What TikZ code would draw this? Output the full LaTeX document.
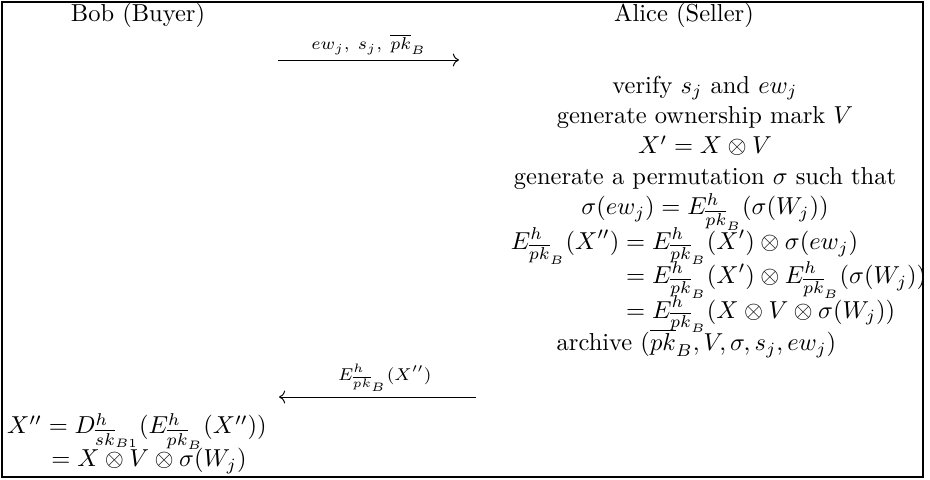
\documentclass[tikz,border=0pt]{standalone}
\usepackage{amsmath,amssymb}
\usetikzlibrary{arrows.meta, positioning}

\newcommand{\Epk}{E^{h}_{\overline{pk}_B}}

\begin{document}
\begin{tikzpicture}[x=0.408pt, y=-0.408pt,
  party/.style={inner sep=0pt, text height=7pt, text depth=2pt},
  rowtext/.style={inner sep=0pt, text height=8.5pt, text depth=3.5pt},
  msg/.style={-{Computer Modern Rightarrow[length=2.5pt]}, line width=0.4pt},
  msglabel/.style={above=2pt, inner sep=0pt},
  node distance=0pt,
]
\useasboundingbox (0,0) rectangle (930,480);
\draw[line width=0.6pt] (2,2) rectangle (923,477);
\node[party] (bob) at (138,15) {Bob (Buyer)};
\node[party] (alice) at (684,15) {Alice (Seller)};
% message to Alice
\coordinate (m1s) at (278,60);
\coordinate (m1e) at (459,60);
\draw[msg] (m1s) -- node[msglabel] (m1) {$\scriptstyle ew_j,\ s_j,\ \overline{pk}_B$} (m1e);
% Alice's steps
\node[rowtext] (chk) at (705,87) {verify $s_j$ and $ew_j$};
\node[rowtext, below=of chk] (mark) {generate ownership mark $V$};
\node[rowtext, below=of mark] (xp) {$X' = X \otimes V$};
\node[rowtext, below=of xp] (perm) {generate a permutation $\sigma$ such that};
\node[rowtext, below=of perm, text depth=5pt] (sig) {$\sigma(ew_j) = \Epk(\sigma(W_j))$};
\node[inner sep=0pt, below=0pt of sig, xshift=5.5pt] (enc) {\setlength{\jot}{1pt}$\begin{aligned}
  \Epk(X'') &= \Epk(X') \otimes \sigma(ew_j)\\[-3pt]
  &= \Epk(X') \otimes \Epk(\sigma(W_j))\\[-3pt]
  &= \Epk(X \otimes V \otimes \sigma(W_j))
\end{aligned}$};
\node[rowtext, below=-1.5pt of enc, xshift=-9pt] (arch) {archive $(\overline{pk}_B, V, \sigma, s_j, ew_j)$};
% message to Bob
\coordinate (m2s) at (476,397);
\coordinate (m2e) at (279,397);
\draw[msg] (m2s) -- node[msglabel, xshift=3pt] (m2) {$\scriptstyle \Epk(X'')$} (m2e);
% Bob decrypts
\node[inner sep=0pt, anchor=base] (res1) at (137,434) {$X'' = D^{h}_{\overline{sk}_{B1}}(\Epk(X''))$};
\node[inner sep=0pt, anchor=base] (res2) at ([xshift=4.9pt, yshift=-13.2pt]res1.base) {$= X \otimes V \otimes \sigma(W_j)$};
\end{tikzpicture}
\end{document}
